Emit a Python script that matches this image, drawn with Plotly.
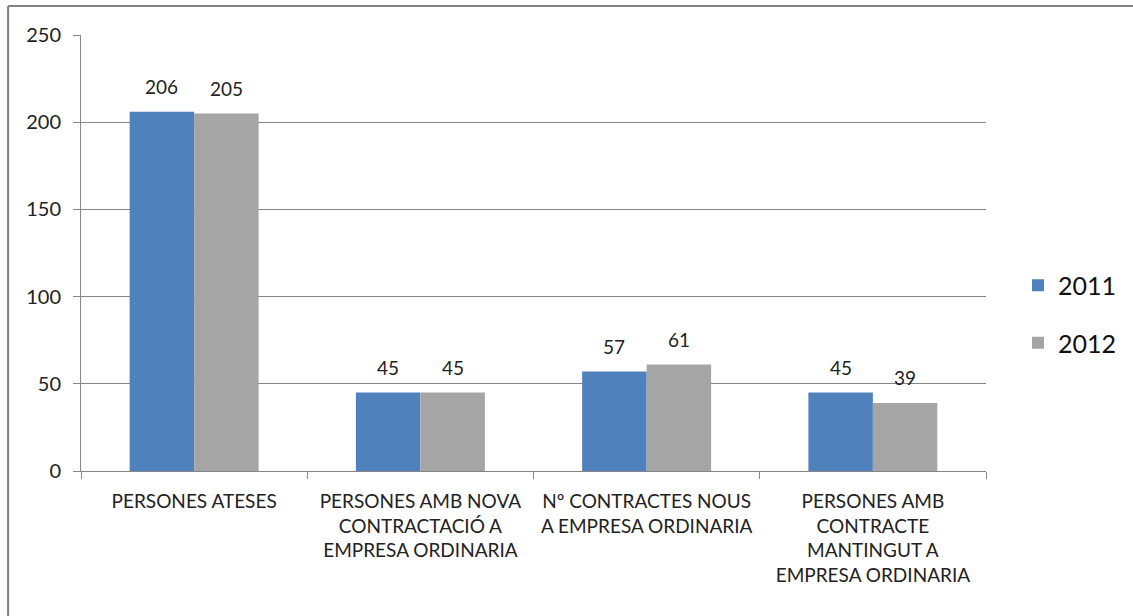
import plotly.graph_objects as go

categories = [
    "PERSONES ATESES",
    "PERSONES AMB NOVA<br>CONTRACTACIÓ A<br>EMPRESA ORDINARIA",
    "Nº CONTRACTES NOUS<br>A EMPRESA ORDINARIA",
    "PERSONES AMB<br>CONTRACTE<br>MANTINGUT A<br>EMPRESA ORDINARIA",
]
series_names = ["2011", "2012"]
values_2011 = [206, 45, 57, 45]
values_2012 = [205, 45, 61, 39]
y_ticks = [0, 50, 100, 150, 200, 250]

colors = ["#4F81BD", "#A5A5A5"]
FONT = "Lato, 'Open Sans', sans-serif"

W, H = 1133, 616
L, R, T, B = 81, 146, 35, 145
plot_w = W - L - R
plot_h = H - T - B

fig = go.Figure()
for name, vals, col in zip(series_names, [values_2011, values_2012], colors):
    fig.add_trace(go.Bar(
        x=categories, y=vals, name=name, marker_color=col,
        marker_line_width=0, legendgroup=name,
    ))

bargap = 0.43
cat_w = plot_w / len(categories)
bar_w = cat_w * (1 - bargap) / 2
for i, (name, vals) in enumerate(zip(series_names, [values_2011, values_2012])):
    shift = (i - 0.5) * bar_w
    for c, v in zip(categories, vals):
        fig.add_annotation(
            x=c, y=v, text=str(v), showarrow=False, xshift=shift, yshift=25,
            font=dict(family=FONT, size=19, color="#222222"),
        )

frame_x0 = (8 - L) / plot_w
frame_y1 = 1 + (T - 6) / plot_h
fig.add_shape(type="line", xref="paper", yref="paper",
              x0=frame_x0, x1=frame_x0, y0=-1, y1=frame_y1,
              line=dict(color="#808080", width=2))
fig.add_shape(type="line", xref="paper", yref="paper",
              x0=frame_x0, x1=2, y0=frame_y1, y1=frame_y1,
              line=dict(color="#808080", width=2))

fig.update_layout(
    width=W, height=H,
    margin=dict(l=L, r=R, t=T, b=B, pad=0),
    paper_bgcolor="white", plot_bgcolor="white",
    barmode="group", bargap=bargap, bargroupgap=0,
    font=dict(family=FONT, size=18, color="#222222"),
    legend=dict(
        x=(1018 - L) / plot_w, y=(H - B - 314) / plot_h,
        xanchor="left", yanchor="middle",
        font=dict(family=FONT, size=25, color="#111111"),
        tracegroupgap=22, itemwidth=30,
        bgcolor="rgba(0,0,0,0)",
    ),
    showlegend=True,
)
fig.update_xaxes(
    showline=True, linecolor="#868686", linewidth=1,
    ticks="outside", ticklen=7, tickcolor="#868686", tickson="boundaries",
    tickfont=dict(family=FONT, size=19, color="#222222"),
    ticklabelstandoff=13,
    showgrid=False, mirror=False,
)
fig.update_yaxes(
    range=[0, 250], tickvals=y_ticks,
    showline=True, linecolor="#868686", linewidth=1,
    ticks="outside", ticklen=7, tickcolor="#868686",
    showgrid=True, gridcolor="#868686", gridwidth=1,
    tickfont=dict(family=FONT, size=20, color="#222222"),
    ticklabelstandoff=8,
    zeroline=False,
)

fig.write_html(
    "out.html",
    config={"displayModeBar": False},
    post_script="document.body.style.margin='0';document.body.style.overflow='hidden';",
)
